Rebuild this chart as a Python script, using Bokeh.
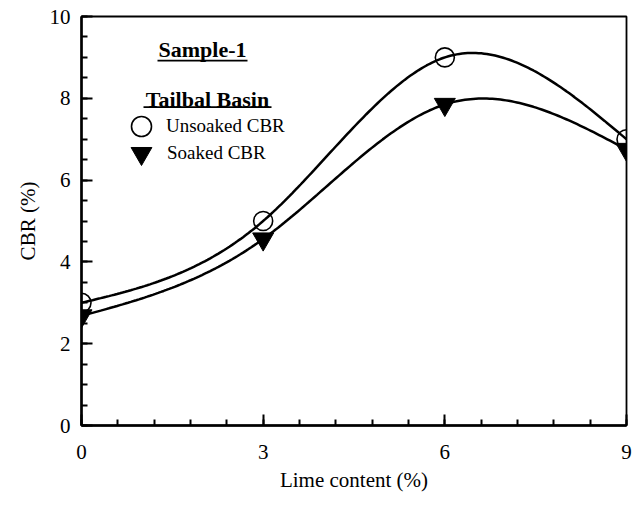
import numpy as np
from bokeh.plotting import figure
from bokeh.models import (Range1d, FixedTicker, Legend, LegendItem, Label,
                          BoxAnnotation)
from bokeh.embed import file_html
from bokeh.resources import INLINE

# ---- data ----
lime = [0, 3, 6, 9]
unsoaked_cbr = [3.0, 5.0, 9.0, 7.0]
soaked_cbr = [2.68, 4.56, 7.85, 6.75]
x_ticks = [0, 3, 6, 9]
y_ticks = [0, 2, 4, 6, 8, 10]

FONT = "Liberation Serif"


def natural_spline(xs, ys, n=200):
    xs = np.asarray(xs, float)
    ys = np.asarray(ys, float)
    k = len(xs)
    h = np.diff(xs)
    A = np.zeros((k, k))
    b = np.zeros(k)
    A[0, 0] = 1
    A[-1, -1] = 1
    for i in range(1, k - 1):
        A[i, i - 1] = h[i - 1]
        A[i, i] = 2 * (h[i - 1] + h[i])
        A[i, i + 1] = h[i]
        b[i] = 6 * ((ys[i + 1] - ys[i]) / h[i] - (ys[i] - ys[i - 1]) / h[i - 1])
    M = np.linalg.solve(A, b)
    xx = np.linspace(xs[0], xs[-1], n)
    yy = np.empty_like(xx)
    for j, x in enumerate(xx):
        i = min(np.searchsorted(xs, x, side="right") - 1, k - 2)
        x0, x1 = xs[i], xs[i + 1]
        hi = h[i]
        yy[j] = (M[i] * (x1 - x) ** 3 / (6 * hi) + M[i + 1] * (x - x0) ** 3 / (6 * hi)
                 + (ys[i] / hi - M[i] * hi / 6) * (x1 - x)
                 + (ys[i + 1] / hi - M[i + 1] * hi / 6) * (x - x0))
    return xx, yy


p = figure(width=633, height=506, output_backend="svg", toolbar_location=None,
           x_range=Range1d(0, 9), y_range=Range1d(0, 10),
           min_border_left=81, min_border_right=7, min_border_top=16,
           min_border_bottom=81)
p.grid.visible = False
p.outline_line_color = "black"
p.outline_line_width = 1.8
p.background_fill_color = "white"
p.border_fill_color = "white"

# axes
p.xaxis.ticker = FixedTicker(ticks=x_ticks,
                             minor_ticks=[i * 0.6 for i in range(16)])
p.yaxis.ticker = FixedTicker(ticks=y_ticks,
                             minor_ticks=[i * 0.5 for i in range(21)])
for ax in (p.xaxis[0], p.yaxis[0]):
    ax.axis_line_width = 2.5
    ax.axis_line_color = "black"
    ax.major_tick_in = 11
    ax.major_tick_out = 0
    ax.minor_tick_in = 6
    ax.minor_tick_out = 0
    ax.major_tick_line_width = 2
    ax.minor_tick_line_width = 2
    ax.major_tick_line_color = "black"
    ax.minor_tick_line_color = "black"
    ax.major_label_text_font = FONT
    ax.major_label_text_font_size = "21px"
    ax.major_label_text_color = "black"
    ax.axis_label_text_font = FONT
    ax.axis_label_text_font_size = "21px"
    ax.axis_label_text_font_style = "normal"
    ax.axis_label_text_color = "black"

p.xaxis.axis_label = "Lime content (%)"
p.yaxis.axis_label = "CBR (%)"
p.xaxis.major_label_standoff = 19
p.xaxis.axis_label_standoff = 6
p.yaxis.major_label_standoff = 11
p.yaxis.axis_label_standoff = 7

# curves
xu, yu = natural_spline(lime, unsoaked_cbr)
xs_, ys_ = natural_spline(lime, soaked_cbr)
p.line(xu, yu, line_color="black", line_width=2.5)
p.line(xs_, ys_, line_color="black", line_width=2.5)

r_un = p.scatter(lime, unsoaked_cbr, marker="circle", size=19,
                 fill_color="white", fill_alpha=0.0, line_color="black", line_width=1.6)
r_so = p.scatter(lime, soaked_cbr, marker="inverted_triangle", size=21,
                 fill_color="black", line_color="black")

common = dict(padding=0, margin=0, label_standoff=0, spacing=0,
              label_text_font=FONT, label_text_font_size="19px",
              label_text_color="black",
              background_fill_alpha=0, border_line_alpha=0)
leg1 = Legend(items=[LegendItem(label="Unsoaked CBR", renderers=[r_un])],
              location=(35, 274), glyph_width=50, glyph_height=50, **common)
leg2 = Legend(items=[LegendItem(label="Soaked CBR", renderers=[r_so])],
              location=(34, 246), glyph_width=52, glyph_height=52, **common)
p.add_layout(leg1, "center")
p.add_layout(leg2, "center")

# titles
for txt, x, y in [("Sample-1", 121, 376), ("Tailbal Basin", 126, 326)]:
    p.add_layout(Label(x=x, y=y, x_units="screen", y_units="screen", text=txt,
                       text_font=FONT, text_font_size="22px",
                       text_font_style="bold", text_color="black",
                       text_align="center", text_baseline="middle"))
for l, r, b in [(76, 166, 364), (62, 190, 317.5)]:
    p.add_layout(BoxAnnotation(left=l, right=r, bottom=b, top=b + 1.8,
                               left_units="screen", right_units="screen",
                               bottom_units="screen", top_units="screen",
                               fill_color="black", fill_alpha=1, line_alpha=0))

open("out.html", "w").write(file_html(p, INLINE))
